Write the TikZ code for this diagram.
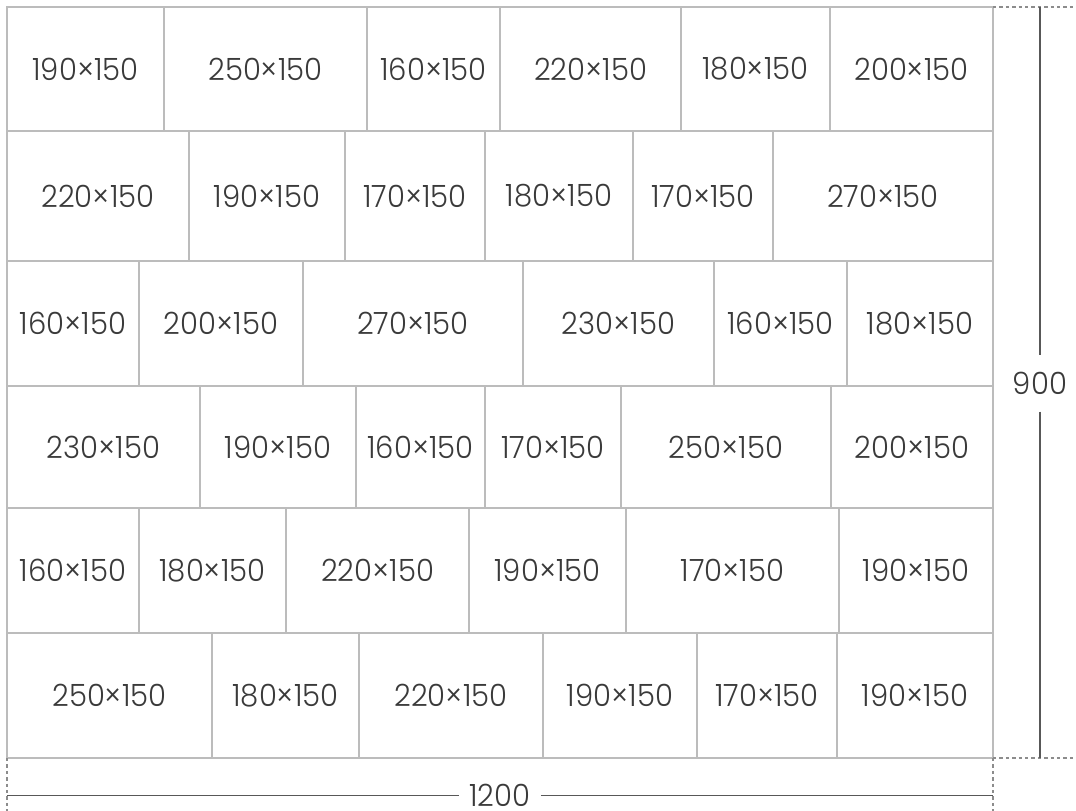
\documentclass[tikz,border=0pt]{standalone}
\usepackage{fontspec}
\newfontfamily\tilefont{Poppins Light}[FakeStretch=0.95]
\definecolor{tileline}{RGB}{188,188,188}
\definecolor{tiletext}{RGB}{58,58,58}
\definecolor{dimline}{RGB}{88,88,88}
\definecolor{dimdash}{RGB}{140,140,140}

\tikzset{
  tile/.style={draw=tileline, line width=0.9pt},
  tilelabel/.style={text=tiletext, font=\tilefont\fontsize{23}{23}\selectfont, inner sep=0pt},
  dimrule/.style={draw=dimline, line width=0.8pt},
  dimguide/.style={draw=dimdash, line width=0.8pt, dash pattern=on 2.6pt off 2.2pt},
  heightlabel/.style={tilelabel, inner ysep=12.4pt},
  widthlabel/.style={tilelabel, inner xsep=7.5pt, inner ysep=1pt}
}

% one course of tiles: name, top y, bottom y, {left/right/length}
\newcommand\tilerow[4]{%
  \foreach \xa/\xb/\len [count=\col] in {#4} {
    \draw[tile] (\xa,#2) rectangle (\xb,#3);
    \node[tilelabel] (#1-\col) at ({(\xa+\xb)/2},{(#2+#3)/2}) {\len×150};
  }%
}

\begin{document}
\begin{tikzpicture}[x=0.75pt,y=0.75pt,yscale=-1,xscale=1]
\useasboundingbox (0,0) rectangle (1076,811);

%Tiles
\tilerow{r1}{7}{131}{7/164/190, 164/367/250, 367/500/160, 500/681/220, 681/830/180, 830/993/200}
\tilerow{r2}{131}{261}{7/189/220, 189/345/190, 345/485/170, 485/633/180, 633/773/170, 773/993/270}
\tilerow{r3}{261}{386}{7/139/160, 139/303/200, 303/523/270, 523/714/230, 714/847/160, 847/993/180}
\tilerow{r4}{386}{508}{7/200/230, 200/356/190, 356/485/160, 485/621/170, 621/831/250, 831/993/200}
\tilerow{r5}{508}{633}{7/139/160, 139/286/180, 286/469/220, 469/626/190, 626/839/170, 839/993/190}
\tilerow{r6}{633}{758}{7/212/250, 212/359/180, 359/543/220, 543/697/190, 697/837/170, 837/993/190}

%Corners and guide ends
\coordinate (grid-ne) at (993,7);
\coordinate (grid-se) at (993,758);
\coordinate (grid-sw) at (7,758);
\coordinate (guide-ne) at (1076,7);
\coordinate (guide-se) at (1076,758);
\coordinate (guide-sw) at (7,811);
\coordinate (guide-s) at (993,811);

%Extension lines
\draw[dimguide] (grid-ne) -- (guide-ne);
\draw[dimguide] (grid-se) -- (guide-se);
\draw[dimguide] (grid-sw) -- (guide-sw);
\draw[dimguide] (grid-se) -- (guide-s);

%Height
\coordinate (height-top) at (1040,7);
\coordinate (height-bot) at (1040,758);
\node[heightlabel] (height) at (1040,383.5) {900};
\draw[dimrule] (height-top) -- (height);
\draw[dimrule] (height) -- (height-bot);

%Width
\coordinate (width-left) at (7,795.5);
\coordinate (width-right) at (993,795.5);
\node[widthlabel] (width) at (500,795.5) {1200};
\draw[dimrule] (width-left) -- (width);
\draw[dimrule] (width) -- (width-right);

\end{tikzpicture}
\end{document}
